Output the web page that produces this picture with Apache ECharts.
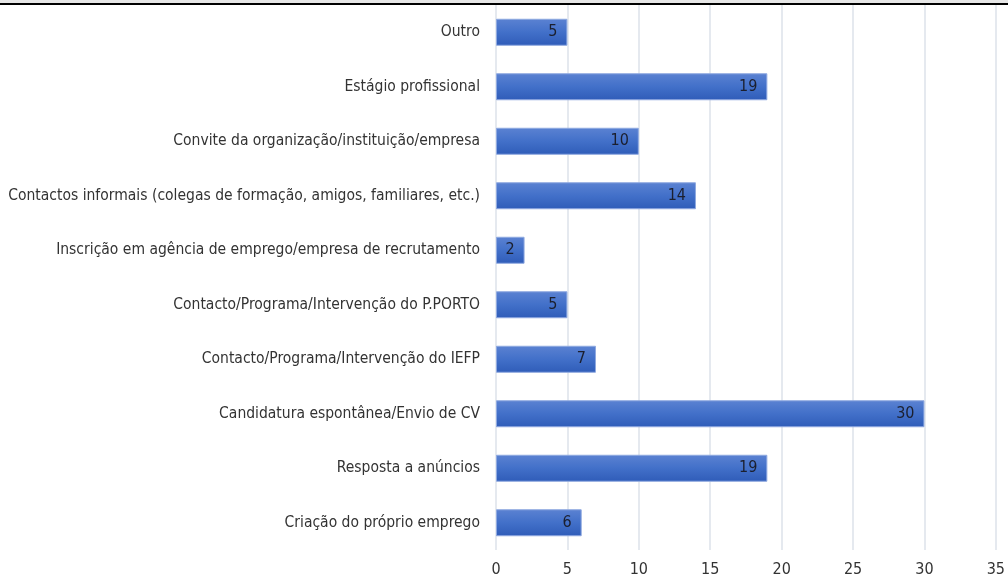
<!DOCTYPE html>
<html>
<head>
<meta charset="utf-8">
<script src="https://cdn.jsdelivr.net/npm/echarts@6/dist/echarts.min.js"></script>
<style>
  html, body { margin: 0; padding: 0; background: #fff; }
  #chart { width: 1008px; height: 579px; }
</style>
</head>
<body>
<div id="chart"></div>
<script>
// categories top to bottom
const categories = [
    'Outro',
    'Estágio profissional',
    'Convite da organização/instituição/empresa',
    'Contactos informais (colegas de formação, amigos, familiares, etc.)',
    'Inscrição em agência de emprego/empresa de recrutamento',
    'Contacto/Programa/Intervenção do P.PORTO',
    'Contacto/Programa/Intervenção do IEFP',
    'Candidatura espontânea/Envio de CV',
    'Resposta a anúncios',
    'Criação do próprio emprego'
];
const counts = [5, 19, 10, 14, 2, 5, 7, 30, 19, 6];
const xTicks = { min: 0, max: 35, interval: 5 };

const labelFont = '"DejaVu Sans Condensed", "Liberation Sans Narrow", sans-serif';

const chart = echarts.init(document.getElementById('chart'));
chart.setOption({
    animation: false,
    graphic: [
        { type: 'rect', shape: { x: 0, y: 0, width: 1008, height: 3 }, style: { fill: '#e6e6e6' } },
        { type: 'rect', shape: { x: 0, y: 3, width: 1008, height: 2 }, style: { fill: '#000' } }
    ],
    grid: { left: 496, right: 10, top: 5, bottom: 29 },
    xAxis: {
        type: 'value',
        min: xTicks.min,
        max: xTicks.max,
        interval: xTicks.interval,
        axisLine: { show: false },
        axisTick: { show: false },
        splitLine: { lineStyle: { color: '#dde2ea', width: 1.5 } },
        axisLabel: { margin: 12, color: '#333', fontSize: 16, fontFamily: labelFont }
    },
    yAxis: {
        type: 'category',
        inverse: true,
        data: categories,
        axisLine: { show: false },
        axisTick: { show: false },
        axisLabel: { margin: 16, color: '#333', fontSize: 15.5, fontFamily: labelFont }
    },
    series: [{
        type: 'bar',
        data: counts,
        barWidth: 27,
        itemStyle: {
            color: new echarts.graphic.LinearGradient(0, 0, 0, 1, [
                { offset: 0, color: '#5b82d2' },
                { offset: 0.5, color: '#4270c9' },
                { offset: 1, color: '#2f5cb8' }
            ]),
            borderColor: '#8fa9e0',
            borderWidth: 1
        },
        label: {
            show: true,
            position: 'insideRight',
            distance: 10,
            color: '#1b1f2e',
            fontSize: 16,
            fontFamily: labelFont
        }
    }]
});
</script>
</body>
</html>
